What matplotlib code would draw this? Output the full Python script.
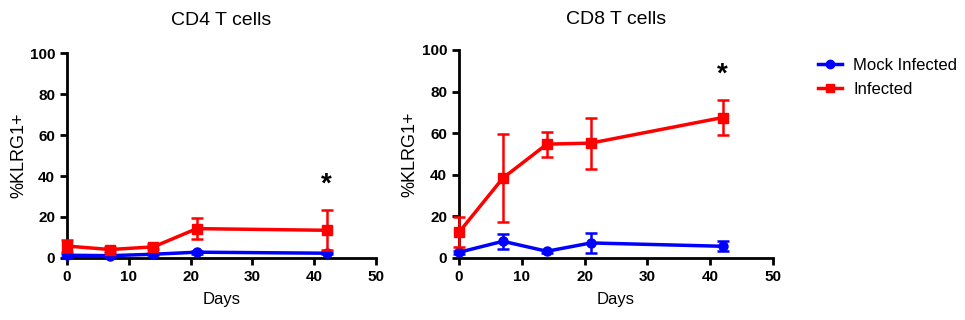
import numpy as np
import matplotlib.pyplot as plt
from matplotlib.lines import Line2D

days = [0, 7, 14, 21, 42]

cd4_mock = [1.3, 1.1, 1.8, 2.8, 2.3]
cd4_mock_err = [0.8, 0.5, 0.6, 0.7, 0.6]
cd4_inf = [5.8, 4.1, 5.4, 14.3, 13.5]
cd4_inf_err = [2.8, 1.0, 1.2, 5.0, 9.8]

cd8_mock = [2.7, 8.0, 3.2, 7.2, 5.6]
cd8_mock_err = [0.8, 3.6, 0.6, 4.8, 2.3]
cd8_inf = [12.3, 38.4, 54.7, 55.2, 67.5]
cd8_inf_err = [7.2, 21.0, 6.0, 12.3, 8.2]

titles = ["CD4 T cells", "CD8 T cells"]
title_pad = [20.5, 18.5]
star_y = [36, 88]

plt.rcParams['font.family'] = ['Liberation Sans', 'DejaVu Sans']

fig = plt.figure(figsize=(9.65, 3.2), dpi=100)
ax1 = fig.add_axes([0.0694, 0.194, 0.3202, 0.640])
ax2 = fig.add_axes([0.4756, 0.194, 0.3254, 0.650])

panels = [(ax1, cd4_mock, cd4_mock_err, cd4_inf, cd4_inf_err),
          (ax2, cd8_mock, cd8_mock_err, cd8_inf, cd8_inf_err)]

for i, (ax, mock, mock_err, inf, inf_err) in enumerate(panels):
    ax.errorbar(days, mock, yerr=mock_err, color="#0000ff", marker="o",
                ms=6.5, lw=2.5, elinewidth=1.8, capsize=4, capthick=1.8,
                clip_on=False, zorder=3)
    ax.errorbar(days, inf, yerr=inf_err, color="#ff0000", marker="s",
                ms=6.5, lw=2.5, elinewidth=1.8, capsize=4, capthick=1.8,
                clip_on=False, zorder=4)
    ax.text(42, star_y[i], "*", ha="center", va="center",
            fontsize=20, fontweight="bold")
    ax.set_xlim(0, 50)
    ax.set_ylim(0, 100)
    ax.set_xticks([0, 10, 20, 30, 40, 50])
    ax.set_yticks([0, 20, 40, 60, 80, 100])
    for s in ["top", "right"]:
        ax.spines[s].set_visible(False)
    for s in ["left", "bottom"]:
        ax.spines[s].set_linewidth(2)
    ax.tick_params(width=2, length=5, labelsize=11)
    for lab in ax.get_xticklabels() + ax.get_yticklabels():
        lab.set_fontweight("bold")
    ax.set_xlabel("Days", fontsize=12, labelpad=6)
    ax.set_ylabel("%KLRG1+", fontsize=13, labelpad=2)
    ax.set_title(titles[i], fontsize=14, pad=title_pad[i])

handles = [Line2D([], [], color="#0000ff", marker="o", ms=6, lw=2.5),
           Line2D([], [], color="#ff0000", marker="s", ms=6, lw=2.5)]
labels = ["Mock Infected", "Infected"]
fig.legend(handles, labels, loc="upper left", bbox_to_anchor=(0.848, 0.818),
           frameon=False, fontsize=12, handlelength=1.4, handletextpad=0.7,
           labelspacing=0.5, borderpad=0, borderaxespad=0)

fig.savefig("out.png", dpi=100)
